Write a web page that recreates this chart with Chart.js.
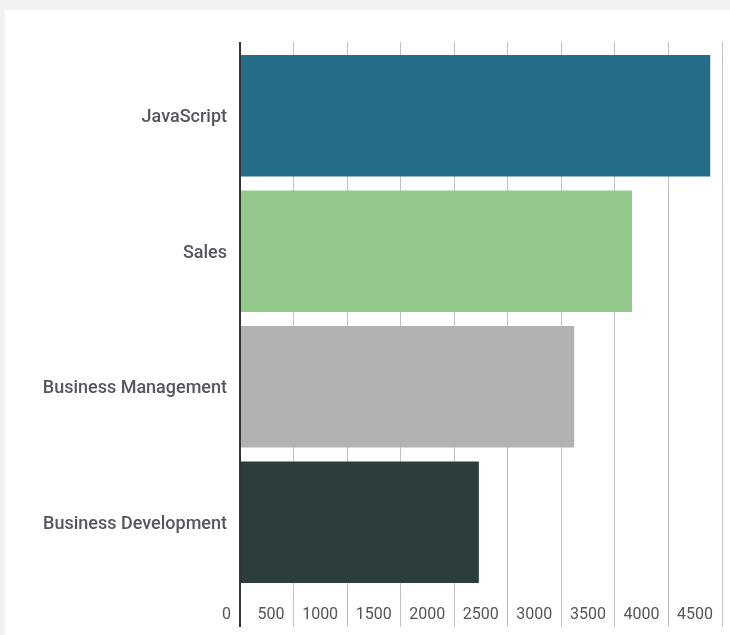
<!DOCTYPE html>
<html>
<head>
<meta charset="utf-8">
<script src="https://cdn.jsdelivr.net/npm/chart.js@4.4.1/dist/chart.umd.min.js"></script>
<style>
  html, body { margin: 0; padding: 0; background: #f2f2f2; }
  #wrap { position: absolute; left: 5px; top: 10px; width: 725px; height: 625px; background: #fff; }
</style>
</head>
<body>
<div id="wrap"><canvas id="barChart"></canvas></div>
<script>
// Datos del gráfico
var categorias = ['JavaScript', 'Sales', 'Business Management', 'Business Development'];
var valores = [4390, 3660, 3120, 2230];
var colores = ['#246e89', '#93c98a', '#b3b2b3', '#2c3d3d'];
var ticksX = [0, 500, 1000, 1500, 2000, 2500, 3000, 3500, 4000, 4500];

// Color de la rejilla: la línea del cero hace de eje
function colorRejilla(ctx) {
    return ctx.tick && ctx.tick.value === 0 ? '#333333' : '#c0c0c0';
}
function anchoRejilla(ctx) {
    return ctx.tick && ctx.tick.value === 0 ? 2 : 1;
}

var ctx = document.getElementById('barChart').getContext('2d');

var myBarChart = new Chart(ctx, {
    type: 'bar',
    data: {
        labels: categorias,
        datasets: [{
            data: valores,
            backgroundColor: colores,
            borderWidth: 0,
            categoryPercentage: 1,
            barPercentage: 0.895
        }]
    },
    options: {
        indexAxis: 'y',
        responsive: true,
        maintainAspectRatio: false,
        animation: false,
        layout: {
            padding: { top: 32, right: 8, bottom: 0, left: 0 }
        },
        scales: {
            x: {
                position: 'bottom',
                min: 0,
                max: 4500,
                afterBuildTicks: function (axis) {
                    axis.ticks = ticksX.map(function (v) { return { value: v }; });
                },
                afterFit: function (axis) { axis.height = 45; },
                border: { display: false },
                grid: {
                    color: colorRejilla,
                    lineWidth: anchoRejilla,
                    tickLength: 37
                },
                ticks: {
                    align: 'end',
                    labelOffset: -9,
                    padding: -22,
                    maxRotation: 0,
                    autoSkip: false,
                    color: '#555555',
                    font: { family: 'Roboto', size: 16 },
                    callback: function (v) { return String(v); }
                }
            },
            xTop: {
                position: 'top',
                axis: 'x',
                min: 0,
                max: 4500,
                afterBuildTicks: function (axis) {
                    axis.ticks = ticksX.map(function (v) { return { value: v }; });
                },
                afterFit: function (axis) { axis.height = 6; },
                border: { display: false },
                grid: {
                    drawOnChartArea: false,
                    color: colorRejilla,
                    lineWidth: anchoRejilla,
                    tickLength: 6
                },
                ticks: { display: false }
            },
            y: {
                afterFit: function (axis) { axis.width = 235; },
                border: { display: false },
                grid: { display: false, tickLength: 0 },
                ticks: {
                    padding: 13,
                    labelOffset: 2,
                    color: '#555560',
                    font: { family: 'Roboto', size: 18, weight: '500' }
                }
            }
        },
        plugins: {
            legend: { display: false },
            tooltip: { enabled: false }
        }
    }
});
</script>
</body>
</html>
